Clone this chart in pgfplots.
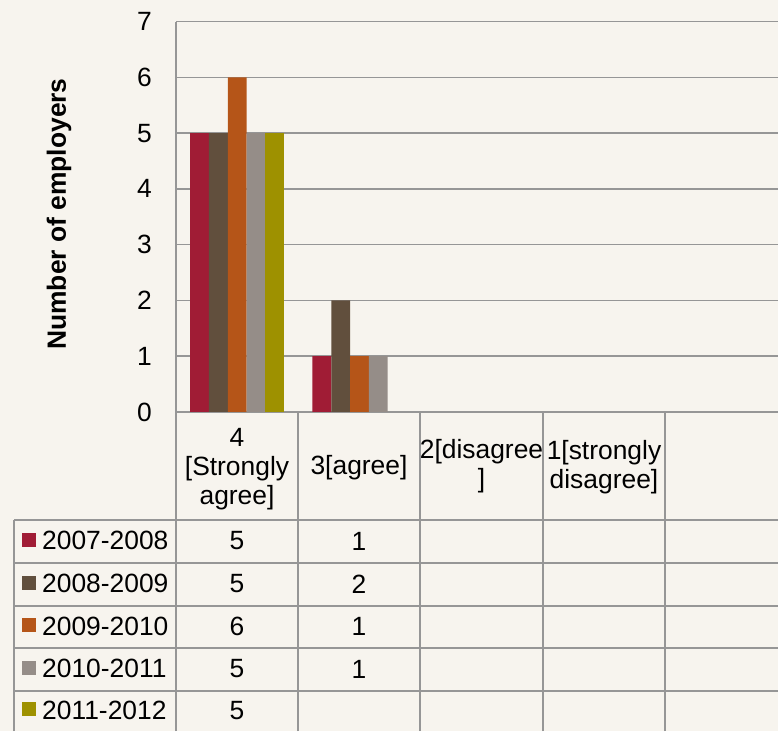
\documentclass[border=0pt]{standalone}
\usepackage{fontspec}
\setmainfont{Liberation Sans}
\usepackage{pgfplots}
\pgfplotsset{compat=1.18}
\definecolor{bg}{RGB}{247,244,238}
\definecolor{cA}{RGB}{160,28,53}
\definecolor{cB}{RGB}{97,79,61}
\definecolor{cC}{RGB}{181,85,24}
\definecolor{cD}{RGB}{149,141,136}
\definecolor{cE}{RGB}{158,145,0}
\definecolor{gl}{RGB}{150,150,150}
\newcommand\cf{\fontsize{26.4}{29}\selectfont}
\begin{document}
\begin{tikzpicture}[font=\cf]
\fill[bg] (0pt,0pt) rectangle (778pt,731pt);
\begin{scope}
\clip (0pt,0pt) rectangle (778pt,731pt);
\begin{axis}[
  at={(176pt,319pt)}, anchor=south west,
  scale only axis, width=611.5pt, height=390.5pt,
  xmin=-0.5, xmax=4.5, ymin=0, ymax=7,
  xtick=\empty,
  ytick={0,1,2,3,4,5,6,7},
  ymajorgrids, grid style={gl, line width=1.5pt},
  axis x line=bottom, axis y line=left,
  axis line style={gl, line width=1.5pt, -},
  major tick length=0pt,
  yticklabel style={font=\cf, anchor=east, inner sep=0pt, xshift=-24pt},
  /pgf/number format/assume math mode=true,
  ybar=0pt, bar width=18.8pt,
  clip=false,
]
\addplot[fill=cA, draw=none] coordinates {(0,5) (1,1)};
\addplot[fill=cB, draw=none] coordinates {(0,5) (1,2)};
\addplot[fill=cC, draw=none] coordinates {(0,6) (1,1)};
\addplot[fill=cD, draw=none] coordinates {(0,5) (1,1)};
\addplot[fill=cE, draw=none] coordinates {(0,5)};
\end{axis}
% table grid
\begin{scope}[gl, line width=1.5pt]
\foreach \y in {211,168,125,83,40} {\draw (14pt,\y pt) -- (778pt,\y pt);}
\draw (14pt,0pt) -- (14pt,211pt);
\draw (176pt,0pt) -- (176pt,319pt);
\foreach \x in {298,420,543,665} {\draw (\x pt,0pt) -- (\x pt,319pt);}
\end{scope}
\end{scope}
% y label
\node[rotate=90, font=\cf\bfseries] at (59pt,517pt) {Number of employers};
% header
\node[align=center, inner sep=0pt] at (237pt,262pt) {4\\{[}Strongly\\agree]};
\node[align=center, inner sep=0pt] at (359pt,263pt) {3[agree]};
\node[align=center, inner sep=0pt] at (481.5pt,265pt) {2[disagree\\{]}};
\node[align=center, inner sep=0pt] at (604pt,264pt) {1[strongly\\disagree]};
% row labels
\foreach \yc/\c/\t in {189.5/cA/2007-2008, 146.5/cB/2008-2009, 104/cC/2009-2010, 61.5/cD/2010-2011, 20/cE/2011-2012} {
  \fill[\c] (22pt,\yc pt-5pt) rectangle (36pt,\yc pt+9pt);
  \node[anchor=west, inner sep=0pt] at (42pt,\yc pt+1pt) {\t};
}
% values
\node[inner sep=0pt] at (237pt,190pt) {5};
\node[inner sep=0pt] at (359pt,190pt) {1};
\node[inner sep=0pt] at (237pt,147pt) {5};
\node[inner sep=0pt] at (359pt,147pt) {2};
\node[inner sep=0pt] at (237pt,104.5pt) {6};
\node[inner sep=0pt] at (359pt,104.5pt) {1};
\node[inner sep=0pt] at (237pt,62pt) {5};
\node[inner sep=0pt] at (359pt,62pt) {1};
\node[inner sep=0pt] at (237pt,20.5pt) {5};
\pgfresetboundingbox
\useasboundingbox (0pt,0pt) rectangle (778pt,731pt);
\end{tikzpicture}
\end{document}
